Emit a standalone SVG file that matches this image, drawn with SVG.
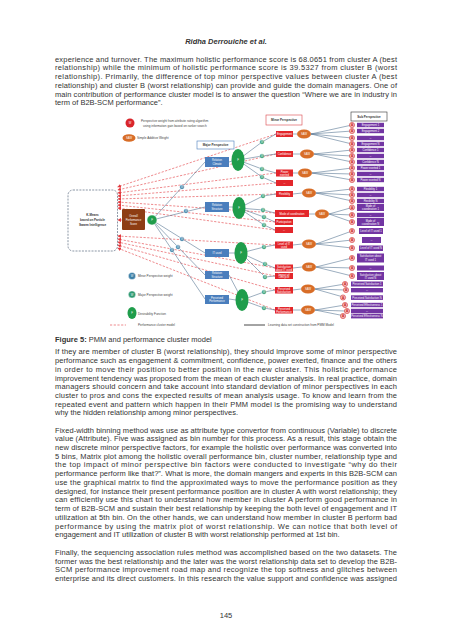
<svg xmlns="http://www.w3.org/2000/svg" width="452" height="640" viewBox="0 0 452 640">
<style>
.t{font-family:"Liberation Sans",Arial,sans-serif;font-size:7.5px;fill:#333}
.b{font-weight:bold}
.f{font-family:"Liberation Sans",Arial,sans-serif;font-size:2.7px;fill:#fff;text-anchor:middle}
.lg{font-family:"Liberation Sans",Arial,sans-serif;font-size:3.1px;fill:#444}
.hd{font-family:"Liberation Sans",Arial,sans-serif;font-size:3px;fill:#333;text-anchor:middle;font-weight:bold}
.red{fill:#e3262b}
.org{fill:#d86d27}
.pur{fill:#7235a3}
.blu{fill:#4a7ebd}
.grn{fill:#1f9d4b}
.wmin{fill:#3d7fa6;stroke:#fff;stroke-width:0.4}
.wmaj{fill:#2f9a72;stroke:#fff;stroke-width:0.4}
.ac{fill:#f5b2b2;stroke:#d33a3a;stroke-width:0.6}
.ln{stroke:#4a6a8a;stroke-width:0.55;fill:none}
.dash{stroke:#e23a3f;stroke-width:0.6;stroke-dasharray:2.2 1.5;fill:none}
.at{font-family:"Liberation Sans",Arial,sans-serif;font-size:3px;fill:#c02020;text-anchor:middle;font-weight:bold}
</style>
<defs>
<marker id="ar" markerWidth="4" markerHeight="4" refX="3.5" refY="2" orient="auto" markerUnits="userSpaceOnUse"><path d="M0,0 L3.5,2 L0,4 z" fill="#e23a3f"/></marker>
</defs>
<rect width="452" height="640" fill="#fff"/>

<text class="t b" x="226" y="43.5" text-anchor="middle" font-style="italic">Ridha Derrouiche et al.</text>

<g id="para1">
<text class="t" x="55" y="61.7" textLength="342" lengthAdjust="spacing">experience and turnover. The maximum holistic performance score is 68.0651 from cluster A (best</text>
<text class="t" x="55" y="70.4" textLength="342" lengthAdjust="spacing">relationship) while the minimum of holistic performance score is 39.5327 from cluster B (worst</text>
<text class="t" x="55" y="79.1" textLength="342" lengthAdjust="spacing">relationship). Primarily, the difference of top minor perspective values between cluster A (best</text>
<text class="t" x="55" y="87.8" textLength="342" lengthAdjust="spacing">relationship) and cluster B (worst relationship) can provide and guide the domain managers. One of</text>
<text class="t" x="55" y="96.5" textLength="342" lengthAdjust="spacing">main contribution of performance cluster model is to answer the question “Where we are in industry in</text>
<text class="t" x="55" y="105.2">term of B2B-SCM performance”.</text>
</g>

<!-- connectors -->
<g id="connectors">
<path class="dash" marker-end="url(#ar)" d="M276,134 L117.5,187"/>
<path class="dash" marker-end="url(#ar)" d="M276,154 L117.5,190"/>
<path class="dash" marker-end="url(#ar)" d="M276,173 L117.5,193"/>
<path class="dash" marker-end="url(#ar)" d="M276,183 L117.5,196"/>
<path class="dash" marker-end="url(#ar)" d="M276,194 L117.5,199"/>
<path class="dash" marker-end="url(#ar)" d="M275,213 L117.5,202"/>
<path class="dash" marker-end="url(#ar)" d="M275,222 L117.5,205"/>
<path class="dash" marker-end="url(#ar)" d="M275,230 L117.5,208"/>
<path class="dash" marker-end="url(#ar)" d="M275,245 L117.5,236"/>
<path class="dash" marker-end="url(#ar)" d="M275,268 L117.5,239"/>
<path class="dash" marker-end="url(#ar)" d="M275,276 L117.5,242"/>
<path class="dash" marker-end="url(#ar)" d="M275,290 L117.5,245"/>
<path class="dash" marker-end="url(#ar)" d="M275,310 L117.5,248"/>
<path class="dash" marker-end="url(#ar)" d="M122,220 L117.5,220"/>
<path class="ln" d="M152,220 L205,162"/>
<path class="ln" d="M152,220 L205,207"/>
<path class="ln" d="M152,220 L205,253"/>
<path class="ln" d="M152,220 L205,275"/>
<path class="ln" d="M152,220 L205,299"/>
<path class="ln" d="M229,162 L232,161"/>
<path class="ln" d="M229,207 L233,207"/>
<path class="ln" d="M229,253 L235,253"/>
<path class="ln" d="M229,275 L238,292"/>
<path class="ln" d="M229,299 L236,300"/>
<path class="ln" d="M238,160 L262,142 L276,134"/>
<path class="ln" d="M238,160 L262,156 L276,154"/>
<path class="ln" d="M238,160 L262,169 L276,173"/>
<path class="ln" d="M238,160 L262,177 L276,183"/>
<path class="ln" d="M239,208 L263,196 L276,194"/>
<path class="ln" d="M239,208 L263,210 L275,213"/>
<path class="ln" d="M239,208 L264,217 L275,222"/>
<path class="ln" d="M239,208 L264,225 L275,230"/>
<path class="ln" d="M241,253 L264,247 L275,245"/>
<path class="ln" d="M241,253 L265,264 L275,268"/>
<path class="ln" d="M241,253 L265,277 L275,276"/>
<path class="ln" d="M242,300 L264,292 L275,290"/>
<path class="ln" d="M242,300 L264,308 L275,310"/>
<path class="ln" d="M293,134 L297,134"/>
<path class="ln" d="M293,154 L300,154"/>
<path class="ln" d="M293,173 L298,173"/>
<path class="ln" d="M293,194 L302,193"/>
<path class="ln" d="M309,214 L315,214"/>
<path class="ln" d="M293,245 L302,244"/>
<path class="ln" d="M293,268 L302,267"/>
<path class="ln" d="M293,290 L301,289"/>
<path class="ln" d="M293,310 L301,310"/>
<path class="ln" d="M311,134 L352,125 M311,134 L352,131 M311,134 L352,138 M311,134 L352,144"/>
<path class="ln" d="M314,154 L352,150 M314,154 L352,156 M314,154 L352,162"/>
<path class="ln" d="M312,173 L352,168 M312,173 L352,174 M312,173 L352,180"/>
<path class="ln" d="M316,193 L352,189 M316,193 L352,195 M316,193 L352,201"/>
<path class="ln" d="M329,214 L352,207.5 M329,214 L352,215 M329,214 L352,222"/>
<path class="ln" d="M316,244 L352,231 M316,244 L352,240 M316,244 L352,248"/>
<path class="ln" d="M316,267 L352,258 M316,267 L352,268 M316,267 L352,276"/>
<path class="ln" d="M315,289 L345,284 M315,289 L345,290 M315,289 L345,297.5"/>
<path class="ln" d="M315,310 L345,305 M315,310 L345,311 M315,310 L345,316"/>
</g>

<g id="legend-top">
<circle cx="130" cy="123" r="4.5" fill="#d9252b"/><text class="f" x="130" y="124">W</text>
<text class="lg" x="141" y="122">Perspective weight from attribute rating algorithm</text>
<text class="lg" x="143" y="127">using information gain based on ranker search</text>
<ellipse class="org" cx="129" cy="138" rx="6.5" ry="3.8"/><text class="f" x="129" y="139">SAW</text>
<text class="lg" x="137" y="139.2">Simple Additive Weight</text>
</g>

<g id="kmeans">
<rect x="68" y="190" width="49.5" height="61" rx="5" fill="#fff" stroke="#5a6a80" stroke-width="0.7" stroke-dasharray="2 1.2"/>
<text class="hd" x="92.5" y="216" font-size="3.6">K-Means</text>
<text class="hd" x="92.5" y="221" font-size="3.6">based on Particle</text>
<text class="hd" x="92.5" y="226" font-size="3.6">Swarm Intelligence</text>
</g>

<g id="overall">
<rect x="122" y="209" width="23" height="21" rx="1" fill="#8e3d14"/>
<text class="f" x="133.5" y="216.5">Overall</text>
<text class="f" x="133.5" y="220.5">Performance</text>
<text class="f" x="133.5" y="224.5">Score</text>
</g>
<g id="f-root"><circle cx="152" cy="220" r="5" class="grn" stroke="#fff" stroke-width="0.5"/><text class="f" x="152" y="221">F</text></g>

<g id="major-weights">
<circle class="wmin" cx="182" cy="187" r="2.3"/><text class="f" x="182" y="188" font-size="2.4">W</text>
<circle class="wmin" cx="186" cy="211" r="2.3"/><text class="f" x="186" y="212" font-size="2.4">W</text>
<circle class="wmin" cx="182" cy="239" r="2.3"/><text class="f" x="182" y="240" font-size="2.4">W</text>
<circle class="wmin" cx="178" cy="247" r="2.3"/><text class="f" x="178" y="248" font-size="2.4">W</text>
<circle class="wmin" cx="172" cy="250" r="2.3"/><text class="f" x="172" y="251" font-size="2.4">W</text>
</g>

<g id="major-header"><rect x="197" y="141" width="37" height="8" fill="#fff" stroke="#4a7ebd" stroke-width="0.6"/><text class="hd" x="215.5" y="146.2">Major Perspective</text></g>
<g id="major-1"><rect class="blu" x="205" y="157" width="24" height="10"/><text class="f" x="217" y="161.3">Relation</text><text class="f" x="217" y="164.8">Climate</text></g>
<g id="major-2"><rect class="blu" x="205" y="202" width="24" height="10"/><text class="f" x="217" y="206.3">Relation</text><text class="f" x="217" y="209.8">Structure</text></g>
<g id="major-3"><rect class="blu" x="205" y="249" width="24" height="8"/><text class="f" x="217" y="254">IT used</text></g>
<g id="major-4"><rect class="blu" x="205" y="271" width="24" height="8"/><text class="f" x="217" y="274.3">Relation</text><text class="f" x="217" y="277.6">Structure</text></g>
<g id="major-5"><rect class="blu" x="205" y="295" width="24" height="9"/><text class="f" x="217" y="298.8">Perceived</text><text class="f" x="217" y="302.3">Performance</text></g>

<g id="green-1"><ellipse class="grn" cx="238" cy="160" rx="6.5" ry="11"/><text class="f" x="238" y="161">F</text></g>
<g id="green-2"><ellipse class="grn" cx="239" cy="208" rx="6.5" ry="11"/><text class="f" x="239" y="209">F</text></g>
<g id="green-3"><ellipse class="grn" cx="241" cy="253" rx="6.5" ry="11"/><text class="f" x="241" y="254">F</text></g>
<g id="green-4"><ellipse class="grn" cx="242" cy="300" rx="6.5" ry="11"/><text class="f" x="242" y="301">F</text></g>

<g id="minor-weights">
<circle class="wmaj" cx="262" cy="142" r="2.3"/><circle class="wmaj" cx="262" cy="156" r="2.3"/><circle class="wmaj" cx="262" cy="169" r="2.3"/><circle class="wmaj" cx="262" cy="177" r="2.3"/>
<circle class="wmaj" cx="263" cy="196" r="2.3"/><circle class="wmaj" cx="263" cy="210" r="2.3"/><circle class="wmaj" cx="264" cy="217" r="2.3"/><circle class="wmaj" cx="264" cy="225" r="2.3"/>
<circle class="wmaj" cx="264" cy="247" r="2.3"/><circle class="wmaj" cx="265" cy="264" r="2.3"/><circle class="wmaj" cx="265" cy="277" r="2.3"/>
<circle class="wmaj" cx="264" cy="292" r="2.3"/><circle class="wmaj" cx="264" cy="308" r="2.3"/>
<g class="f" font-size="2.4">
<text x="262" y="143">W</text><text x="262" y="157">W</text><text x="262" y="170">W</text><text x="262" y="178">W</text>
<text x="263" y="197">W</text><text x="263" y="211">W</text><text x="264" y="218">W</text><text x="264" y="226">W</text>
<text x="264" y="248">W</text><text x="265" y="265">W</text><text x="265" y="278">W</text>
<text x="264" y="293">W</text><text x="264" y="309">W</text>
</g>
</g>

<g id="minor-header"><rect x="266" y="115" width="36" height="10" fill="#fff" stroke="#d9454a" stroke-width="0.6"/><text class="hd" x="284" y="121">Minor Perspective</text></g>
<g id="minor-1"><rect class="red" x="276" y="131" width="17" height="6"/><text class="f" x="284.5" y="135">Engagement</text></g>
<g id="minor-2"><rect class="red" x="276" y="151" width="17" height="6"/><text class="f" x="284.5" y="155">Confidence</text></g>
<g id="minor-3"><rect class="red" x="276" y="169.5" width="17" height="7"/><text class="f" x="284.5" y="172.5">Power</text><text class="f" x="284.5" y="175.5">exerted</text></g>
<g id="minor-4"><rect class="red" x="276" y="180" width="17" height="6"/><text class="f" x="284.5" y="184">...</text></g>
<g id="minor-5"><rect class="red" x="276" y="191" width="17" height="6"/><text class="f" x="284.5" y="195">Flexibility</text></g>
<g id="minor-6"><rect class="red" x="275" y="210" width="34" height="7"/><text class="f" x="292" y="214.5">Mode of coordination</text></g>
<g id="minor-7"><rect class="red" x="275" y="219" width="18" height="6"/><text class="f" x="284" y="223">Participation</text></g>
<g id="minor-8"><rect class="red" x="275" y="227" width="18" height="6"/><text class="f" x="284" y="231">...</text></g>
<g id="minor-9"><rect class="red" x="275" y="241.5" width="18" height="7"/><text class="f" x="284" y="244.5">Level of IT</text><text class="f" x="284" y="247.5">used</text></g>
<g id="minor-10"><rect class="red" x="275" y="264.5" width="18" height="7"/><text class="f" x="284" y="267.5">Satisfaction</text><text class="f" x="284" y="270.5">about IT used</text></g>
<g id="minor-11"><rect class="red" x="275" y="273" width="18" height="6"/><text class="f" x="284" y="275.7">Impact of</text><text class="f" x="284" y="278.4">Lifecycle</text></g>
<g id="minor-12"><rect class="red" x="275" y="287" width="18" height="6.5"/><text class="f" x="284" y="289.8">Perceived</text><text class="f" x="284" y="292.6">Satisfaction</text></g>
<g id="minor-13"><rect class="red" x="275" y="307" width="18" height="6.5"/><text class="f" x="284" y="309.8">Perceived</text><text class="f" x="284" y="312.6">Performance</text></g>

<g id="saw-nodes">
<ellipse class="org" cx="304" cy="134" rx="7" ry="4.5"/><ellipse class="org" cx="307" cy="154" rx="7" ry="4.5"/><ellipse class="org" cx="305" cy="173" rx="7" ry="4.5"/>
<ellipse class="org" cx="309" cy="193" rx="7" ry="4.5"/><ellipse class="org" cx="322" cy="214" rx="7" ry="4.5"/><ellipse class="org" cx="309" cy="244" rx="7" ry="4.5"/>
<ellipse class="org" cx="309" cy="267" rx="7" ry="4.5"/><ellipse class="org" cx="308" cy="289" rx="7" ry="4.5"/><ellipse class="org" cx="308" cy="310" rx="7" ry="4.5"/>
<g class="f"><text x="304" y="135">SAW</text><text x="307" y="155">SAW</text><text x="305" y="174">SAW</text><text x="309" y="194">SAW</text><text x="322" y="215">SAW</text><text x="309" y="245">SAW</text><text x="309" y="268">SAW</text><text x="308" y="290">SAW</text><text x="308" y="311">SAW</text></g>
</g>

<g id="a-weights">
<circle class="ac" cx="352" cy="125" r="2.6"/><circle class="ac" cx="352" cy="131" r="2.6"/><circle class="ac" cx="352" cy="138" r="2.6"/><circle class="ac" cx="352" cy="144" r="2.6"/>
<circle class="ac" cx="352" cy="150" r="2.6"/><circle class="ac" cx="352" cy="156" r="2.6"/><circle class="ac" cx="352" cy="162" r="2.6"/>
<circle class="ac" cx="352" cy="168" r="2.6"/><circle class="ac" cx="352" cy="174" r="2.6"/><circle class="ac" cx="352" cy="180" r="2.6"/>
<circle class="ac" cx="352" cy="189" r="2.6"/><circle class="ac" cx="352" cy="195" r="2.6"/><circle class="ac" cx="352" cy="201" r="2.6"/>
<circle class="ac" cx="352" cy="207.5" r="2.6"/><circle class="ac" cx="352" cy="215" r="2.6"/><circle class="ac" cx="352" cy="222" r="2.6"/>
<circle class="ac" cx="352" cy="231" r="2.6"/><circle class="ac" cx="352" cy="240" r="2.6"/><circle class="ac" cx="352" cy="248" r="2.6"/>
<circle class="ac" cx="352" cy="258" r="2.6"/><circle class="ac" cx="352" cy="268" r="2.6"/><circle class="ac" cx="352" cy="276" r="2.6"/>
<circle class="ac" cx="345" cy="284" r="2.6"/><circle class="ac" cx="346" cy="290" r="2.6"/><circle class="ac" cx="343" cy="297.5" r="2.6"/>
<circle class="ac" cx="345" cy="305" r="2.6"/><circle class="ac" cx="347" cy="311" r="2.6"/><circle class="ac" cx="343" cy="316" r="2.6"/>
<g class="at">
<text x="352" y="126">A</text><text x="352" y="132">A</text><text x="352" y="139">A</text><text x="352" y="145">A</text>
<text x="352" y="151">A</text><text x="352" y="157">A</text><text x="352" y="163">A</text>
<text x="352" y="169">A</text><text x="352" y="175">A</text><text x="352" y="181">A</text>
<text x="352" y="190">A</text><text x="352" y="196">A</text><text x="352" y="202">A</text>
<text x="352" y="208.5">A</text><text x="352" y="216">A</text><text x="352" y="223">A</text>
<text x="352" y="232">A</text><text x="352" y="241">A</text><text x="352" y="249">A</text>
<text x="352" y="259">A</text><text x="352" y="269">A</text><text x="352" y="277">A</text>
<text x="345" y="285">A</text><text x="346" y="291">A</text><text x="343" y="298.5">A</text>
<text x="345" y="306">A</text><text x="347" y="312">A</text><text x="343" y="317">A</text>
</g>
</g>

<g id="sub-header"><rect x="351" y="112" width="36" height="9" fill="#fff" stroke="#333" stroke-width="0.6"/><text class="hd" x="369" y="117.5">Sub Perspective</text></g>
<g id="sub-perspectives">
<rect class="pur" x="357" y="122.8" width="27" height="4.4"/><rect class="pur" x="357" y="128.8" width="27" height="4.4"/><rect class="pur" x="357" y="135.8" width="27" height="4.4"/><rect class="pur" x="357" y="141.8" width="27" height="4.4"/>
<rect class="pur" x="357" y="147.8" width="27" height="4.4"/><rect class="pur" x="357" y="153.8" width="27" height="4.4"/><rect class="pur" x="357" y="159.8" width="27" height="4.4"/>
<rect class="pur" x="357" y="165.8" width="27" height="4.4"/><rect class="pur" x="357" y="171.8" width="27" height="4.4"/><rect class="pur" x="357" y="177.8" width="27" height="4.4"/>
<rect class="pur" x="357" y="186.8" width="27" height="4.4"/><rect class="pur" x="357" y="192.8" width="27" height="4.4"/><rect class="pur" x="357" y="198.8" width="27" height="4.4"/>
<rect class="pur" x="357" y="204" width="27" height="7"/><rect class="pur" x="357" y="212.8" width="27" height="4.4"/><rect class="pur" x="357" y="218" width="27" height="8"/>
<rect class="pur" x="359" y="228" width="24" height="6"/><rect class="pur" x="362" y="237" width="19" height="6"/><rect class="pur" x="359" y="245.5" width="24" height="5.5"/>
<rect class="pur" x="357" y="253.5" width="27" height="9"/><rect class="pur" x="357" y="265.5" width="27" height="5"/><rect class="pur" x="357" y="272" width="27" height="8"/>
<rect class="pur" x="351" y="281.5" width="32" height="5"/><rect class="pur" x="351" y="288" width="32" height="4.4"/><rect class="pur" x="351" y="295.3" width="32" height="4.6"/>
<rect class="pur" x="351" y="302.8" width="32" height="4.4"/><rect class="pur" x="351" y="308.8" width="32" height="4.4"/><rect class="pur" x="351" y="313.8" width="32" height="4.6"/>
<g class="f" font-size="2.5">
<text x="370.5" y="126">Engagement 1</text><text x="370.5" y="132">Engagement 2</text><text x="370.5" y="139">...</text><text x="370.5" y="145">Engagement N</text>
<text x="370.5" y="151">Confidence 1</text><text x="370.5" y="157">...</text><text x="370.5" y="163">Confidence N</text>
<text x="370.5" y="169">Power exerted 1</text><text x="370.5" y="175">...</text><text x="370.5" y="181">Power exerted N</text>
<text x="370.5" y="190">Flexibility 1</text><text x="370.5" y="196">...</text><text x="370.5" y="202">Flexibility N</text>
<text x="370.5" y="207">Mode of</text><text x="370.5" y="210">coordination 1</text><text x="370.5" y="216">...</text><text x="370.5" y="221.5">Mode of</text><text x="370.5" y="224.5">coordination N</text>
<text x="371" y="232">Level of IT used 1</text><text x="371.5" y="241">...</text><text x="371" y="249">Level of IT used N</text>
<text x="370.5" y="257.2">Satisfaction about</text><text x="370.5" y="260.5">IT used 1</text><text x="370.5" y="269">...</text><text x="370.5" y="275.5">Satisfaction about</text><text x="370.5" y="278.5">IT used N</text>
<text x="367" y="285">Perceived Satisfaction 1</text><text x="367" y="291">...</text><text x="367" y="298.5">Perceived Satisfaction N</text>
<text x="367" y="306">Perceived Effectiveness 1</text><text x="367" y="312">...</text><text x="367" y="317">Perceived Effectiveness N</text>
</g>
</g>

<g id="legend-bottom">
<circle class="wmin" cx="132" cy="276" r="3.6"/><text class="f" x="132" y="277">W</text>
<text class="lg" x="138" y="277.2">Minor Perspective weight</text>
<circle class="wmaj" cx="132" cy="294.5" r="3.6"/><text class="f" x="132" y="295.5">W</text>
<text class="lg" x="138" y="295.7">Major Perspective weight</text>
<ellipse class="grn" cx="132" cy="313" rx="4.5" ry="6"/><text class="f" x="132" y="314">F</text>
<text class="lg" x="138" y="315.2">Desirability Function</text>
<line x1="110" y1="325" x2="126" y2="325" class="dash" stroke-width="0.7"/>
<text class="lg" x="138" y="326.2">Performance cluster model</text>
<line x1="244" y1="325" x2="265" y2="325" stroke="#333" stroke-width="0.9"/>
<text class="lg" x="268" y="326.2">Learning data set construction from PMM Model</text>
</g>

<text class="t" x="55" y="341.5"><tspan class="b">Figure 5:</tspan> PMM and performance cluster model</text>

<g id="para2">
<text class="t" x="55" y="354.4" textLength="342" lengthAdjust="spacing">If they are member of cluster B (worst relationship), they should improve some of minor perspective</text>
<text class="t" x="55" y="363.1" textLength="342" lengthAdjust="spacing">performance such as engagement &amp; commitment, confidence, power exerted, finance and the others</text>
<text class="t" x="55" y="371.8" textLength="342" lengthAdjust="spacing">in order to move their position to better position in the new cluster. This holistic performance</text>
<text class="t" x="55" y="380.5" textLength="342" lengthAdjust="spacing">improvement tendency was proposed from the mean of each cluster analysis. In real practice, domain</text>
<text class="t" x="55" y="389.1" textLength="342" lengthAdjust="spacing">managers should concern and take account into standard deviation of minor perspectives in each</text>
<text class="t" x="55" y="397.8" textLength="342" lengthAdjust="spacing">cluster to pros and cons the expected results of mean analysis usage. To know and learn from the</text>
<text class="t" x="55" y="406.5" textLength="342" lengthAdjust="spacing">repeated event and pattern which happen in their PMM model is the promising way to understand</text>
<text class="t" x="55" y="415.1">why the hidden relationship among minor perspectives.</text>
</g>

<g id="para3">
<text class="t" x="55" y="432.5" textLength="342" lengthAdjust="spacing">Fixed-width binning method was use as attribute type convertor from continuous (Variable) to discrete</text>
<text class="t" x="55" y="441.2" textLength="342" lengthAdjust="spacing">value (Attribute). Five was assigned as bin number for this process. As a result, this stage obtain the</text>
<text class="t" x="55" y="449.9" textLength="342" lengthAdjust="spacing">new discrete minor perspective factors, for example the holistic over performance was converted into</text>
<text class="t" x="55" y="458.6" textLength="342" lengthAdjust="spacing">5 bins, Matrix plot among the holistic overall performance bin, cluster number, relationship type and</text>
<text class="t" x="55" y="467.4" textLength="342" lengthAdjust="spacing">the top impact of minor perspective bin factors were conducted to investigate “why do their</text>
<text class="t" x="55" y="476.1" textLength="342" lengthAdjust="spacing">performance perform like that?”. What is more, the domain mangers and experts in this B2B-SCM can</text>
<text class="t" x="55" y="484.9" textLength="342" lengthAdjust="spacing">use the graphical matrix to find the approximated ways to move the performance position as they</text>
<text class="t" x="55" y="493.6" textLength="342" lengthAdjust="spacing">designed, for instance their present performance position are in cluster A with worst relationship; they</text>
<text class="t" x="55" y="502.4" textLength="342" lengthAdjust="spacing">can efficiently use this chart to understand how member in cluster A perform good performance in</text>
<text class="t" x="55" y="511.1" textLength="342" lengthAdjust="spacing">term of B2B-SCM and sustain their best relationship by keeping the both level of engagement and IT</text>
<text class="t" x="55" y="519.9" textLength="342" lengthAdjust="spacing">utilization at 5th bin. On the other hands, we can understand how member in cluster B perform bad</text>
<text class="t" x="55" y="528.6" textLength="342" lengthAdjust="spacing">performance by using the matrix plot of worst relationship. We can notice that both level of</text>
<text class="t" x="55" y="537.4">engagement and IT utilization of cluster B with worst relationship performed at 1st bin.</text>
</g>

<g id="para4">
<text class="t" x="55" y="555" textLength="342" lengthAdjust="spacing">Finally, the sequencing association rules method was accomplished based on the two datasets. The</text>
<text class="t" x="55" y="563.7" textLength="342" lengthAdjust="spacing">former was the best relationship and the later was the worst relationship data set to develop the B2B-</text>
<text class="t" x="55" y="572.4" textLength="342" lengthAdjust="spacing">SCM performance improvement road map and recognize the top softness and glitches between</text>
<text class="t" x="55" y="581" textLength="342" lengthAdjust="spacing">enterprise and its direct customers. In this research the value support and confidence was assigned</text>
</g>

<text class="t" x="226" y="618.3" text-anchor="middle" font-size="7">145</text>
</svg>
